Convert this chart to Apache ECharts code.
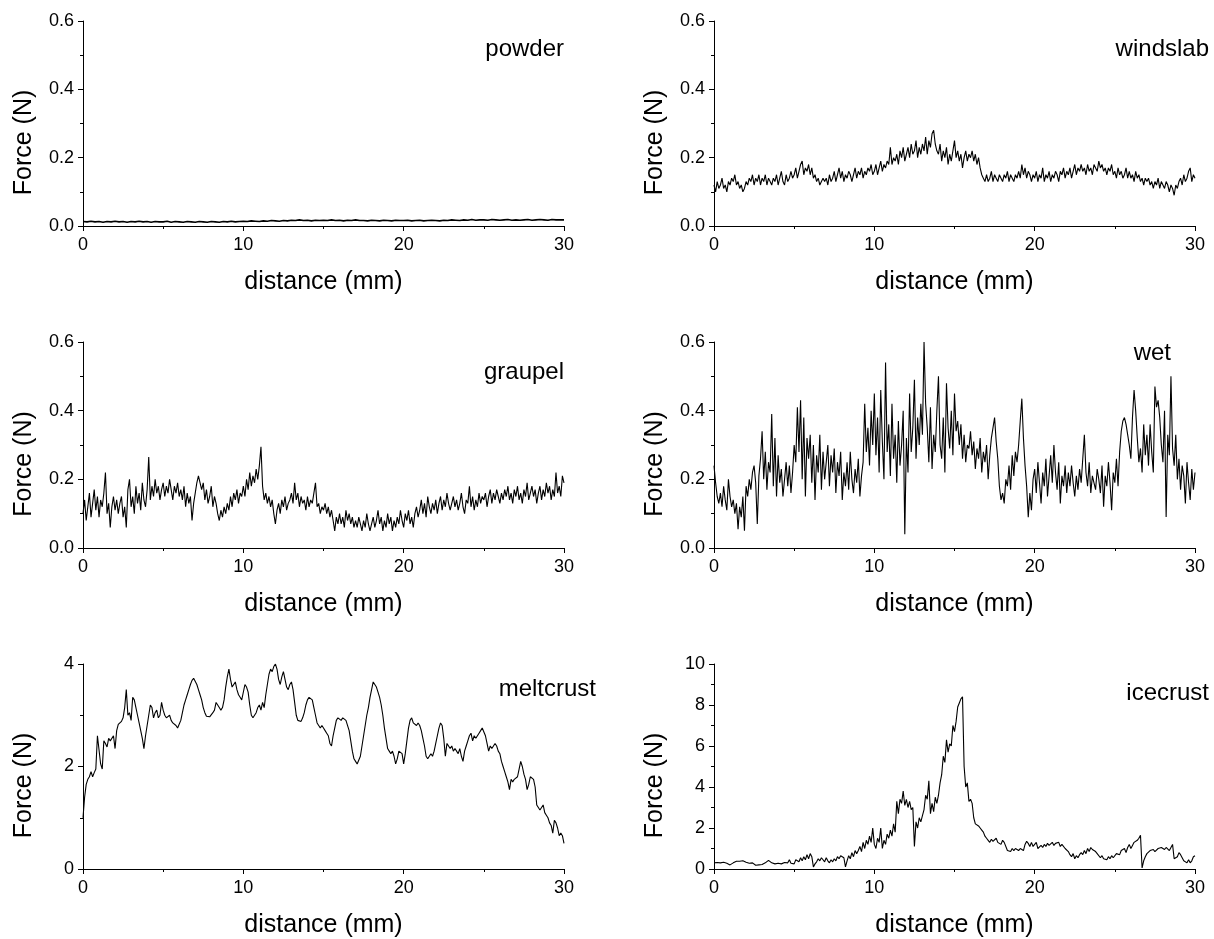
<!DOCTYPE html>
<html><head><meta charset="utf-8">
<script src="https://cdn.jsdelivr.net/npm/echarts@6/dist/echarts.min.js"></script>
<style>html,body{margin:0;padding:0;background:#fff}#c{width:1214px;height:939px}</style>
</head><body><div id="c"></div>
<script>
// ---------- data (force in N, sampled at fixed distance step in mm) ----------
const panelNames = ['powder', 'windslab', 'graupel', 'wet', 'meltcrust', 'icecrust'];
const xAxisTitle = 'distance (mm)';
const yAxisTitle = 'Force (N)';
const xMax = 30, xInterval = 10;
const yMax = [0.6, 0.6, 0.6, 0.6, 4, 10];
const yInterval = [0.2, 0.2, 0.2, 0.2, 2, 2];
const yDecimals = [1, 1, 1, 1, 0, 0];
const sampleStep = [0.25, 0.1, 0.1, 0.1, 0.1, 0.1];

const powder = [
0.013,0.012,0.014,0.012,0.013,0.011,0.013,0.012,0.014,0.012,
0.013,0.011,0.013,0.012,0.014,0.012,0.013,0.011,0.013,0.012,
0.012,0.014,0.011,0.013,0.012,0.011,0.013,0.012,0.011,0.013,
0.012,0.011,0.013,0.012,0.011,0.013,0.012,0.014,0.012,0.013,
0.014,0.013,0.015,0.014,0.013,0.015,0.014,0.016,0.015,0.014,
0.016,0.015,0.017,0.016,0.018,0.016,0.017,0.015,0.017,0.016,
0.017,0.016,0.018,0.016,0.017,0.015,0.017,0.016,0.018,0.016,
0.016,0.015,0.017,0.016,0.015,0.017,0.016,0.015,0.017,0.016,
0.016,0.017,0.015,0.016,0.017,0.015,0.016,0.017,0.016,0.015,
0.017,0.016,0.018,0.017,0.016,0.018,0.017,0.019,0.017,0.018,
0.018,0.017,0.019,0.018,0.017,0.018,0.019,0.017,0.018,0.017,
0.018,0.019,0.017,0.018,0.019,0.018,0.017,0.019,0.018,0.018,
0.018];

const windslab = [
0.12,0.10,0.13,0.11,0.12,0.14,0.11,0.12,0.10,0.13,
0.12,0.14,0.13,0.15,0.12,0.13,0.11,0.12,0.10,0.11,
0.13,0.12,0.14,0.13,0.15,0.12,0.14,0.13,0.15,0.12,
0.14,0.13,0.15,0.12,0.14,0.13,0.12,0.14,0.13,0.15,
0.12,0.14,0.16,0.13,0.12,0.15,0.13,0.14,0.16,0.14,
0.15,0.17,0.14,0.16,0.18,0.19,0.15,0.17,0.16,0.18,
0.15,0.17,0.14,0.15,0.13,0.14,0.12,0.13,0.14,0.13,
0.14,0.12,0.15,0.13,0.14,0.16,0.13,0.15,0.17,0.14,
0.16,0.13,0.15,0.14,0.16,0.15,0.13,0.15,0.17,0.14,
0.16,0.15,0.17,0.14,0.16,0.15,0.17,0.16,0.18,0.15,
0.16,0.18,0.15,0.17,0.19,0.16,0.18,0.17,0.19,0.18,
0.23,0.18,0.20,0.19,0.21,0.18,0.22,0.20,0.23,0.19,
0.21,0.23,0.20,0.24,0.21,0.22,0.25,0.20,0.23,0.21,
0.24,0.22,0.26,0.21,0.25,0.23,0.27,0.28,0.24,0.22,
0.21,0.24,0.19,0.22,0.20,0.23,0.18,0.21,0.19,0.22,
0.25,0.20,0.22,0.19,0.21,0.17,0.20,0.22,0.19,0.21,
0.20,0.22,0.19,0.21,0.18,0.20,0.17,0.15,0.14,0.13,
0.15,0.13,0.14,0.16,0.13,0.15,0.14,0.13,0.15,0.14,
0.13,0.15,0.14,0.16,0.13,0.15,0.14,0.13,0.15,0.14,
0.16,0.14,0.18,0.15,0.17,0.14,0.16,0.15,0.13,0.15,
0.14,0.16,0.13,0.15,0.14,0.17,0.13,0.15,0.14,0.16,
0.13,0.15,0.14,0.16,0.15,0.13,0.16,0.15,0.17,0.14,
0.16,0.15,0.17,0.14,0.16,0.18,0.15,0.17,0.16,0.18,
0.16,0.17,0.15,0.18,0.16,0.17,0.15,0.18,0.17,0.16,
0.19,0.17,0.18,0.16,0.17,0.15,0.17,0.16,0.18,0.15,
0.16,0.14,0.17,0.15,0.16,0.14,0.15,0.17,0.14,0.16,
0.14,0.15,0.13,0.16,0.14,0.15,0.13,0.14,0.12,0.14,
0.13,0.14,0.12,0.13,0.11,0.13,0.12,0.14,0.11,0.13,
0.12,0.11,0.13,0.12,0.10,0.12,0.11,0.09,0.12,0.11,
0.13,0.14,0.12,0.15,0.13,0.14,0.16,0.17,0.13,0.15,
0.14];

const graupel = [
0.10,0.14,0.08,0.12,0.16,0.09,0.13,0.17,0.11,0.15,
0.09,0.14,0.12,0.16,0.22,0.10,0.13,0.06,0.12,0.15,
0.11,0.14,0.10,0.13,0.15,0.09,0.12,0.06,0.17,0.20,
0.12,0.15,0.10,0.18,0.13,0.16,0.11,0.19,0.14,0.12,
0.17,0.265,0.14,0.18,0.15,0.20,0.16,0.18,0.14,0.17,
0.19,0.15,0.18,0.16,0.20,0.17,0.14,0.18,0.16,0.19,
0.15,0.17,0.14,0.18,0.12,0.16,0.13,0.15,0.08,0.13,
0.16,0.19,0.21,0.215,0.17,0.19,0.14,0.17,0.13,0.15,
0.18,0.12,0.15,0.13,0.10,0.08,0.11,0.09,0.12,0.10,
0.13,0.11,0.15,0.12,0.16,0.14,0.17,0.13,0.16,0.15,
0.18,0.15,0.20,0.17,0.22,0.18,0.21,0.19,0.23,0.20,
0.24,0.295,0.18,0.14,0.16,0.13,0.15,0.12,0.14,0.10,
0.07,0.11,0.13,0.10,0.14,0.12,0.15,0.11,0.13,0.14,
0.16,0.13,0.19,0.14,0.16,0.12,0.15,0.13,0.14,0.11,
0.15,0.12,0.14,0.13,0.16,0.19,0.12,0.13,0.10,0.12,
0.11,0.13,0.10,0.12,0.09,0.11,0.08,0.05,0.09,0.07,
0.10,0.07,0.09,0.06,0.11,0.08,0.10,0.07,0.09,0.06,
0.08,0.06,0.09,0.07,0.05,0.08,0.06,0.10,0.07,0.05,
0.07,0.09,0.06,0.08,0.11,0.07,0.09,0.05,0.08,0.06,
0.10,0.07,0.09,0.05,0.08,0.06,0.09,0.07,0.11,0.08,
0.06,0.10,0.08,0.11,0.07,0.09,0.06,0.10,0.12,0.09,
0.11,0.14,0.10,0.13,0.09,0.15,0.12,0.10,0.13,0.11,
0.14,0.10,0.13,0.15,0.11,0.14,0.12,0.16,0.13,0.11,
0.13,0.15,0.12,0.14,0.11,0.13,0.16,0.12,0.10,0.14,
0.13,0.18,0.12,0.15,0.11,0.14,0.12,0.16,0.13,0.15,
0.14,0.16,0.12,0.15,0.17,0.13,0.16,0.14,0.17,0.15,
0.13,0.16,0.14,0.17,0.15,0.18,0.14,0.16,0.13,0.17,
0.15,0.18,0.14,0.16,0.13,0.17,0.15,0.19,0.14,0.16,
0.18,0.15,0.17,0.13,0.16,0.18,0.14,0.17,0.15,0.19,
0.16,0.18,0.14,0.17,0.15,0.22,0.16,0.18,0.15,0.21,
0.19];

const wet = [
0.24,0.19,0.15,0.13,0.16,0.12,0.18,0.14,0.11,0.20,
0.15,0.12,0.14,0.10,0.13,0.055,0.12,0.09,0.15,0.05,
0.18,0.15,0.20,0.17,0.22,0.24,0.19,0.07,0.21,0.26,
0.34,0.20,0.28,0.17,0.25,0.22,0.39,0.18,0.32,0.15,
0.27,0.19,0.23,0.15,0.20,0.25,0.18,0.24,0.16,0.22,
0.30,0.25,0.41,0.28,0.43,0.20,0.38,0.15,0.32,0.26,
0.33,0.19,0.30,0.14,0.27,0.22,0.33,0.17,0.28,0.20,
0.25,0.30,0.18,0.27,0.22,0.29,0.16,0.25,0.21,0.28,
0.14,0.22,0.18,0.25,0.17,0.28,0.20,0.16,0.23,0.19,
0.26,0.15,0.21,0.25,0.42,0.28,0.35,0.24,0.40,0.30,
0.45,0.27,0.38,0.22,0.46,0.31,0.20,0.54,0.28,0.36,
0.21,0.42,0.26,0.33,0.19,0.37,0.24,0.30,0.40,0.04,
0.32,0.22,0.45,0.28,0.35,0.49,0.26,0.38,0.30,0.42,
0.33,0.60,0.42,0.35,0.25,0.41,0.23,0.33,0.28,0.40,
0.50,0.30,0.26,0.38,0.22,0.48,0.35,0.29,0.40,0.27,
0.45,0.34,0.37,0.30,0.36,0.26,0.33,0.25,0.30,0.29,
0.34,0.27,0.31,0.23,0.29,0.26,0.32,0.22,0.28,0.25,
0.30,0.20,0.27,0.32,0.35,0.38,0.31,0.26,0.18,0.14,
0.16,0.13,0.20,0.18,0.24,0.17,0.27,0.21,0.28,0.25,
0.30,0.37,0.435,0.32,0.24,0.18,0.09,0.16,0.11,0.20,
0.23,0.16,0.25,0.19,0.13,0.22,0.18,0.26,0.15,0.21,
0.27,0.19,0.30,0.22,0.17,0.25,0.13,0.21,0.18,0.24,
0.16,0.22,0.18,0.24,0.19,0.15,0.21,0.17,0.23,0.19,
0.26,0.33,0.22,0.18,0.25,0.16,0.21,0.19,0.17,0.23,
0.20,0.16,0.24,0.12,0.21,0.18,0.25,0.19,0.11,0.22,
0.19,0.26,0.18,0.28,0.34,0.37,0.38,0.36,0.33,0.30,
0.26,0.38,0.46,0.40,0.32,0.25,0.29,0.22,0.36,0.27,
0.33,0.24,0.36,0.28,0.22,0.47,0.41,0.43,0.38,0.30,
0.25,0.40,0.09,0.33,0.27,0.50,0.29,0.24,0.33,0.20,
0.26,0.17,0.24,0.21,0.13,0.25,0.19,0.14,0.23,0.17,
0.22];

const meltcrust = [
1.00,1.40,1.65,1.75,1.80,1.90,1.80,1.88,1.95,2.60,
2.58,2.05,1.95,2.50,2.45,2.38,2.55,2.50,2.48,2.60,
2.35,2.70,2.82,2.85,2.88,2.95,3.15,3.50,3.00,3.05,
2.90,3.35,3.30,3.15,3.00,2.85,2.70,2.55,2.35,2.60,
2.80,3.00,3.20,3.15,2.95,3.05,3.10,2.95,3.00,3.25,
3.10,3.00,2.95,2.97,3.00,2.90,2.85,2.85,2.80,2.75,
2.78,2.90,3.05,3.20,3.30,3.40,3.50,3.60,3.68,3.72,
3.70,3.60,3.50,3.40,3.30,3.15,3.05,2.98,2.95,2.97,
3.00,3.05,3.10,3.25,3.20,3.15,3.10,3.15,3.30,3.55,
3.75,3.90,3.70,3.55,3.60,3.65,3.50,3.40,3.35,3.30,
3.30,3.60,3.55,3.45,3.20,3.00,2.95,2.95,3.05,3.15,
3.20,3.10,3.25,3.15,3.40,3.60,3.80,3.90,3.85,3.95,
4.00,3.90,3.70,3.60,3.75,3.85,3.70,3.55,3.50,3.60,
3.65,3.50,3.25,3.00,2.90,2.92,2.88,2.95,3.05,3.20,
3.30,3.35,3.35,3.30,3.15,3.00,2.85,2.80,2.75,2.80,
2.75,2.70,2.65,2.60,2.45,2.40,2.60,2.75,2.90,2.95,
2.95,2.90,2.95,2.92,2.90,2.88,2.70,2.50,2.30,2.15,
2.10,2.05,2.08,2.20,2.40,2.60,2.80,3.00,3.15,3.35,
3.50,3.65,3.60,3.55,3.45,3.35,3.20,3.00,2.75,2.55,
2.35,2.30,2.25,2.30,2.20,2.05,2.15,2.30,2.30,2.25,
2.05,2.25,2.50,2.75,2.90,2.95,2.85,2.85,2.80,2.85,
2.80,2.70,2.55,2.40,2.20,2.15,2.20,2.25,2.20,2.30,
2.45,2.60,2.75,2.85,2.80,2.55,2.20,2.45,2.40,2.35,
2.40,2.30,2.35,2.30,2.25,2.35,2.20,2.10,2.30,2.40,
2.50,2.60,2.65,2.50,2.60,2.55,2.60,2.65,2.70,2.75,
2.75,2.60,2.45,2.30,2.40,2.35,2.40,2.45,2.40,2.30,
2.25,2.10,2.00,1.90,1.80,1.70,1.55,1.75,1.70,1.75,
1.75,1.80,1.95,2.10,2.00,1.85,1.75,1.55,1.65,1.80,
1.80,1.75,1.60,1.25,1.20,1.15,1.20,1.25,1.10,1.05,
1.00,0.90,0.85,0.70,0.95,0.90,0.80,0.65,0.70,0.65,
0.50];

const icecrust = [
0.30,0.25,0.32,0.28,0.30,0.27,0.33,0.25,0.28,0.22,
0.20,0.25,0.30,0.35,0.38,0.40,0.38,0.42,0.40,0.35,
0.33,0.30,0.28,0.25,0.30,0.22,0.18,0.15,0.20,0.18,
0.22,0.25,0.30,0.38,0.42,0.35,0.30,0.28,0.25,0.30,
0.28,0.22,0.25,0.28,0.32,0.40,0.30,0.45,0.28,0.35,
0.25,0.45,0.50,0.35,0.55,0.40,0.60,0.45,0.70,0.50,
0.75,0.60,0.10,0.25,0.35,0.50,0.40,0.55,0.45,0.35,
0.55,0.40,0.30,0.45,0.35,0.50,0.40,0.60,0.50,0.65,
0.70,0.55,0.10,0.40,0.65,0.50,0.80,0.60,0.90,0.75,
0.90,1.10,0.85,1.30,1.00,1.40,1.20,1.60,1.30,2.00,
1.20,1.00,1.50,1.30,2.00,1.00,1.40,1.20,1.70,1.50,
1.90,1.60,2.20,1.80,3.30,2.70,3.40,3.20,3.80,3.10,
3.40,3.00,3.30,2.90,3.00,1.10,2.30,2.00,2.50,2.30,
2.60,2.90,3.60,3.40,4.30,2.70,3.20,2.80,3.50,3.20,
3.60,4.20,4.60,5.50,5.20,6.30,5.70,6.10,6.00,7.00,
6.70,7.20,7.90,8.10,8.30,8.40,5.00,4.00,4.20,3.30,
3.40,3.20,2.50,2.20,2.20,2.10,2.00,1.90,1.80,1.60,
1.50,1.40,1.30,1.45,1.35,1.40,1.50,1.30,1.35,1.20,
1.40,1.30,1.35,0.90,0.95,0.85,1.00,0.90,1.00,0.95,
0.90,1.00,1.05,0.90,1.20,1.35,1.25,1.10,1.30,1.10,
1.15,1.30,1.00,0.95,1.15,1.05,1.20,1.10,1.25,1.15,
1.20,1.30,1.15,1.25,1.20,1.30,1.10,1.20,1.15,1.00,
1.05,0.85,0.70,0.60,0.75,0.50,0.65,0.55,0.70,0.80,
0.70,0.90,0.75,1.00,0.85,1.05,0.95,1.00,0.85,0.75,
0.70,0.55,0.65,0.50,0.55,0.45,0.60,0.50,0.65,0.55,
0.60,0.75,0.80,0.70,0.90,0.85,1.00,0.80,1.05,1.20,
1.00,1.15,1.30,1.25,1.40,1.50,1.65,0.05,0.40,0.60,
0.75,0.80,0.90,0.85,0.95,0.85,0.90,1.00,0.95,1.05,
1.00,0.95,1.05,1.10,0.90,1.05,1.20,0.50,0.45,0.60,
0.80,0.70,0.55,0.40,0.35,0.30,0.45,0.30,0.40,0.60,
0.65];

const panelData = [powder, windslab, graupel, wet, meltcrust, icecrust];

// ---------- layout / style ----------
const FONT = '"Liberation Sans", Arial, sans-serif';
const gridBoxes = [
  {left: 83, top: 21, width: 481, height: 205},
  {left: 714, top: 21, width: 481, height: 205},
  {left: 83, top: 342, width: 481, height: 206},
  {left: 714, top: 342, width: 481, height: 206},
  {left: 83, top: 664, width: 481, height: 207},
  {left: 714, top: 664, width: 481, height: 207}
];
// panel label: right edge x, center y
const labelPos = [[564, 49], [1209, 49], [564, 372], [1171, 353], [596, 689], [1209, 693]];

const axisLineStyle = {color: '#000', width: 1};
const grids = [], xAxes = [], yAxes = [], series = [], graphics = [];

panelNames.forEach((name, i) => {
  grids.push(Object.assign({containLabel: false}, gridBoxes[i]));
  xAxes.push({
    type: 'value', gridIndex: i, min: 0, max: xMax, interval: xInterval,
    name: xAxisTitle, nameLocation: 'middle', nameGap: 44,
    nameTextStyle: {fontSize: 25, color: '#000', fontFamily: FONT},
    axisLine: {show: true, lineStyle: axisLineStyle, onZero: false},
    axisTick: {show: true, length: 5, lineStyle: axisLineStyle},
    minorTick: {show: true, splitNumber: 2, length: 3, lineStyle: axisLineStyle},
    axisLabel: {fontSize: 18, color: '#000', fontFamily: FONT, margin: 10},
    splitLine: {show: false}
  });
  const dec = yDecimals[i];
  yAxes.push({
    type: 'value', gridIndex: i, min: 0, max: yMax[i], interval: yInterval[i],
    name: yAxisTitle, nameLocation: 'middle', nameGap: 46, nameRotate: 90,
    nameTextStyle: {fontSize: 25, color: '#000', fontFamily: FONT, padding: [0, 38, 0, 0]},
    axisLine: {show: true, lineStyle: axisLineStyle, onZero: false},
    axisTick: {show: true, length: 5, lineStyle: axisLineStyle},
    minorTick: {show: true, splitNumber: 2, length: 3, lineStyle: axisLineStyle},
    axisLabel: {fontSize: 18, color: '#000', fontFamily: FONT, margin: 9,
      formatter: v => Number(v).toFixed(dec)},
    splitLine: {show: false}
  });
  const step = sampleStep[i];
  const vals = panelData[i];
  series.push({
    type: 'line', xAxisIndex: i, yAxisIndex: i, showSymbol: false, symbol: 'none',
    data: vals.map((v, k) => [Math.round(k * step * 1000) / 1000, v]),
    lineStyle: {color: '#000', width: i === 0 ? 1.6 : 1.1},
    silent: true, animation: false
  });
  graphics.push({
    type: 'text', x: labelPos[i][0], y: labelPos[i][1],
    style: {text: name, fontSize: 24, fontFamily: FONT, fill: '#000',
      textAlign: 'right', textVerticalAlign: 'middle'}
  });
});

const chart = echarts.init(document.getElementById('c'), null, {renderer: 'canvas'});
chart.setOption({
  backgroundColor: '#fff',
  animation: false,
  grid: grids, xAxis: xAxes, yAxis: yAxes, series: series,
  graphic: graphics
});
</script></body></html>
